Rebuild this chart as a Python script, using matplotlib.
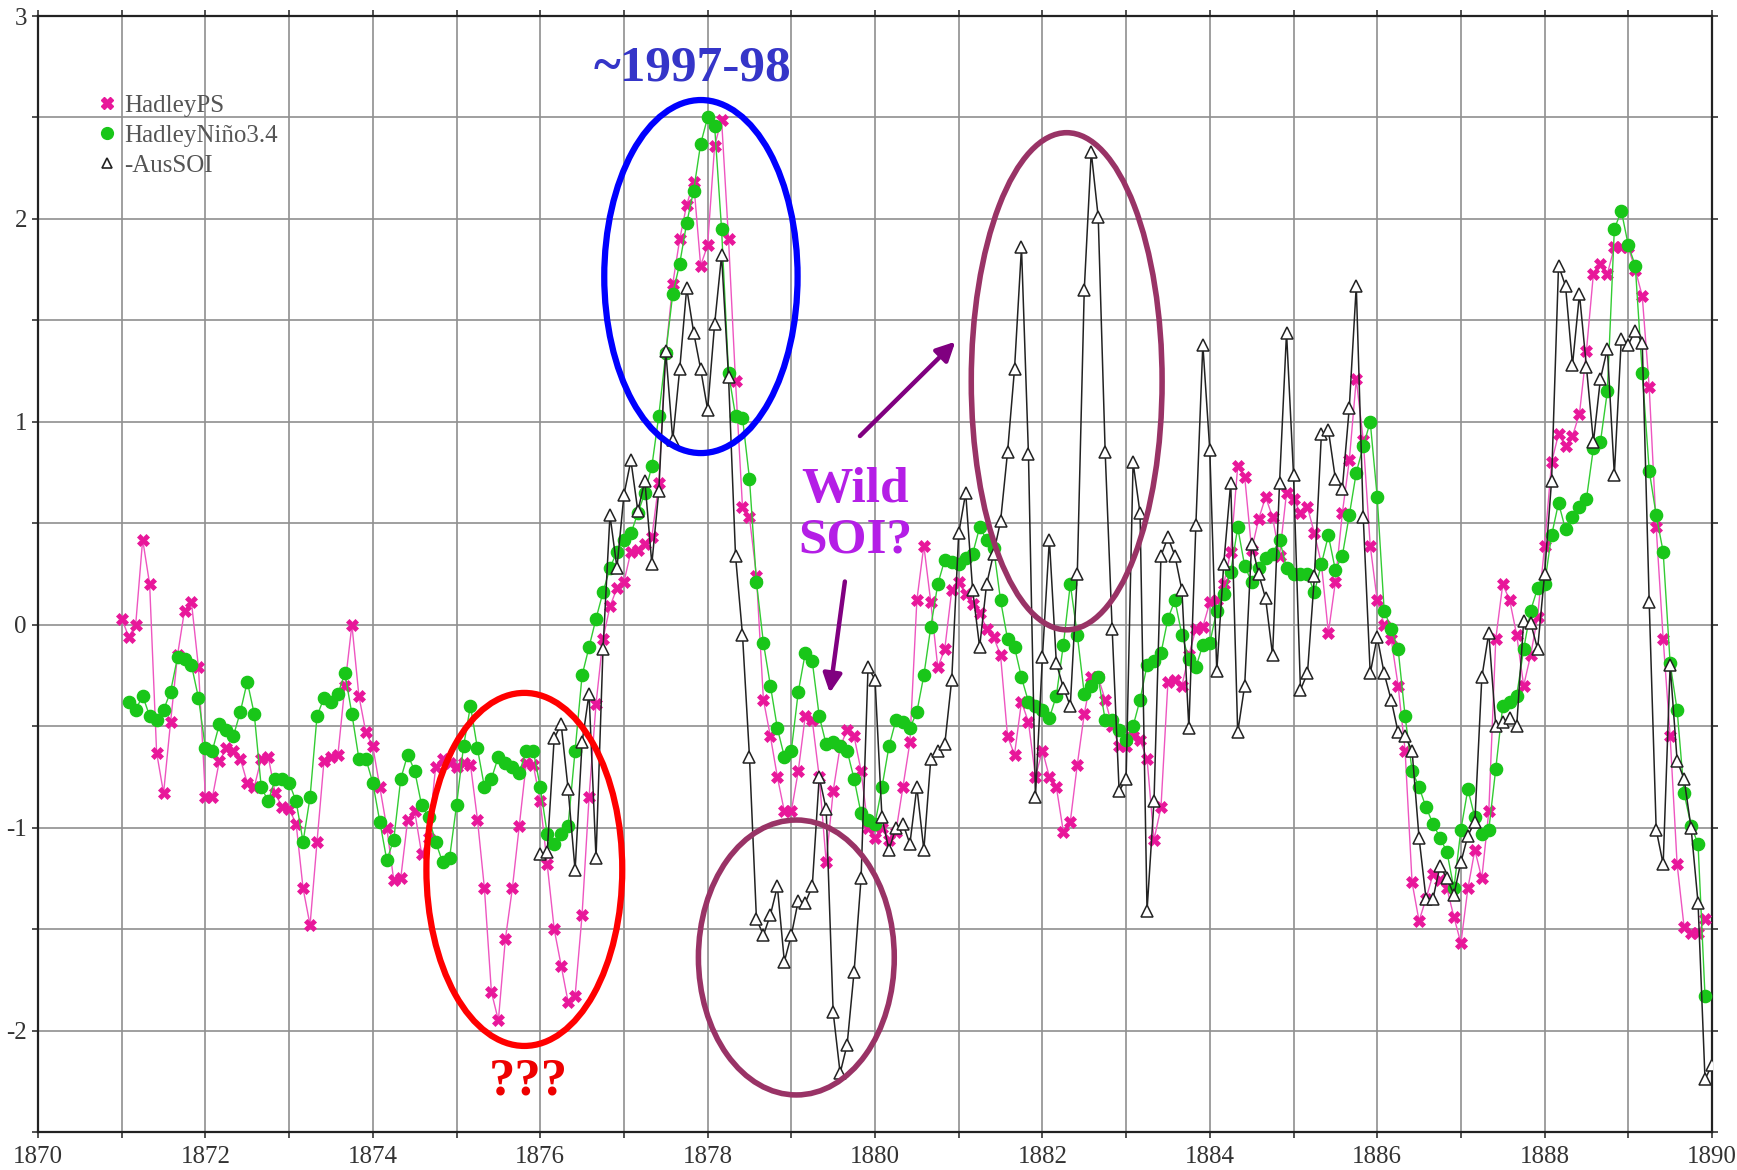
import numpy as np
import matplotlib
matplotlib.use('Agg')
import matplotlib.pyplot as plt
from matplotlib.patches import Ellipse
from matplotlib.lines import Line2D
from matplotlib.ticker import MultipleLocator

# ---------------- data (monthly values) ----------------
ps_start = 1871.0          # HadleyPS starts Jan 1871
nino_start = 1871 + 1 / 12  # HadleyNino3.4 starts Feb 1871
soi_start = 1876.0         # -AusSOI starts Jan 1876

hadley_ps = [
    0.03, -0.06, 0.00, 0.42, 0.20, -0.63, -0.83, -0.48, -0.15, 0.07, 0.11, -0.21,
    -0.85, -0.85, -0.67, -0.61, -0.62, -0.66, -0.78, -0.80, -0.66, -0.65, -0.83, -0.90,
    -0.91, -0.98, -1.30, -1.48, -1.07, -0.67, -0.65, -0.64, -0.30, 0.00, -0.35, -0.53,
    -0.60, -0.80, -1.00, -1.26, -1.25, -0.96, -0.92, -1.13, -1.05, -0.70, -0.66, -0.68,
    -0.70, -0.68, -0.69, -0.96, -1.30, -1.81, -1.95, -1.55, -1.30, -0.99, -0.68, -0.69,
    -0.87, -1.18, -1.50, -1.68, -1.86, -1.83, -1.43, -0.85, -0.39, -0.07, 0.09, 0.18,
    0.21, 0.36, 0.37, 0.40, 0.43, 0.70, 1.34, 1.68, 1.90, 2.07, 2.18, 1.77,
    1.87, 2.36, 2.49, 1.90, 1.20, 0.58, 0.53, 0.24, -0.37, -0.55, -0.75, -0.92,
    -0.92, -0.72, -0.45, -0.47, -0.75, -1.17, -0.82, -0.60, -0.52, -0.55, -0.72, -1.00,
    -1.05, -1.00, -1.06, -1.02, -0.80, -0.58, 0.12, 0.39, 0.11, -0.21, -0.12, 0.17,
    0.21, 0.15, 0.10, 0.06, -0.02, -0.06, -0.15, -0.55, -0.64, -0.38, -0.48, -0.75,
    -0.62, -0.75, -0.80, -1.02, -0.97, -0.69, -0.44, -0.26, -0.26, -0.37, -0.50, -0.60,
    -0.60, -0.55, -0.57, -0.66, -1.06, -0.90, -0.28, -0.27, -0.30, -0.15, -0.02, -0.01,
    0.11, 0.12, 0.20, 0.36, 0.78, 0.73, 0.37, 0.52, 0.63, 0.53, 0.34, 0.65,
    0.62, 0.55, 0.58, 0.45, 0.30, -0.04, 0.21, 0.55, 0.81, 1.21, 0.91, 0.39,
    0.12, 0.00, -0.07, -0.30, -0.62, -1.27, -1.46, -1.35, -1.23, -1.26, -1.30, -1.44,
    -1.57, -1.30, -1.11, -1.25, -0.92, -0.07, 0.20, 0.12, -0.05, -0.30, -0.15, 0.04,
    0.39, 0.80, 0.94, 0.88, 0.93, 1.04, 1.35, 1.73, 1.78, 1.73, 1.86, 1.86,
    1.86, 1.75, 1.62, 1.17, 0.48, -0.07, -0.55, -1.18, -1.49, -1.52, -1.52, -1.45,
]

hadley_nino34 = [
    -0.38, -0.42, -0.35, -0.45, -0.47, -0.42, -0.33, -0.16, -0.17, -0.20, -0.36,
    -0.61, -0.62, -0.49, -0.52, -0.55, -0.43, -0.28, -0.44, -0.80, -0.87, -0.76, -0.76,
    -0.78, -0.87, -1.07, -0.85, -0.45, -0.36, -0.38, -0.34, -0.24, -0.44, -0.66, -0.66,
    -0.78, -0.97, -1.16, -1.06, -0.76, -0.64, -0.72, -0.89, -0.95, -1.07, -1.17, -1.15,
    -0.89, -0.60, -0.40, -0.61, -0.80, -0.76, -0.65, -0.68, -0.70, -0.73, -0.62, -0.62,
    -0.80, -1.03, -1.08, -1.03, -0.99, -0.62, -0.25, -0.11, 0.03, 0.16, 0.28, 0.36,
    0.42, 0.45, 0.55, 0.65, 0.78, 1.03, 1.34, 1.63, 1.78, 1.98, 2.14, 2.37,
    2.50, 2.46, 1.95, 1.24, 1.03, 1.02, 0.72, 0.21, -0.09, -0.30, -0.51, -0.65,
    -0.62, -0.33, -0.14, -0.18, -0.45, -0.59, -0.58, -0.60, -0.62, -0.76, -0.93, -0.96,
    -0.98, -0.80, -0.60, -0.47, -0.48, -0.51, -0.43, -0.25, -0.01, 0.20, 0.32, 0.31,
    0.30, 0.33, 0.35, 0.48, 0.42, 0.38, 0.12, -0.07, -0.11, -0.26, -0.38, -0.40,
    -0.42, -0.46, -0.35, -0.10, 0.20, -0.05, -0.34, -0.30, -0.26, -0.47, -0.47, -0.52,
    -0.57, -0.50, -0.37, -0.20, -0.18, -0.14, 0.03, 0.12, -0.05, -0.17, -0.21, -0.10,
    -0.09, 0.07, 0.15, 0.26, 0.48, 0.29, 0.21, 0.28, 0.33, 0.35, 0.42, 0.28,
    0.25, 0.25, 0.25, 0.16, 0.30, 0.44, 0.27, 0.34, 0.54, 0.75, 0.88, 1.00,
    0.63, 0.07, -0.02, -0.12, -0.45, -0.72, -0.80, -0.90, -0.98, -1.05, -1.12, -1.30,
    -1.01, -0.81, -0.95, -1.03, -1.01, -0.71, -0.40, -0.38, -0.35, -0.12, 0.07, 0.18,
    0.20, 0.44, 0.60, 0.47, 0.53, 0.58, 0.62, 0.87, 0.90, 1.15, 1.95, 2.04,
    1.87, 1.77, 1.24, 0.76, 0.54, 0.36, -0.19, -0.42, -0.83, -0.99, -1.08, -1.83,
]

neg_aus_soi = [
    -1.13, -1.12, -0.56, -0.49, -0.81, -1.21, -0.58, -0.34, -1.15, -0.12, 0.54, 0.28,
    0.64, 0.81, 0.56, 0.71, 0.30, 0.66, 1.35, 0.91, 1.26, 1.66, 1.44, 1.26,
    1.06, 1.48, 1.82, 1.22, 0.34, -0.05, -0.65, -1.45, -1.53, -1.43, -1.29, -1.66,
    -1.53, -1.36, -1.37, -1.29, -0.75, -0.91, -1.91, -2.21, -2.07, -1.71, -1.25, -0.21,
    -0.27, -0.95, -1.11, -1.00, -0.98, -1.08, -0.80, -1.11, -0.66, -0.62, -0.59, -0.27,
    0.45, 0.65, 0.17, -0.11, 0.20, 0.35, 0.51, 0.85, 1.26, 1.86, 0.84, -0.85,
    -0.16, 0.42, -0.19, -0.31, -0.40, 0.25, 1.65, 2.33, 2.01, 0.85, -0.02, -0.82,
    -0.76, 0.80, 0.55, -1.41, -0.87, 0.34, 0.43, 0.34, 0.17, -0.51, 0.49, 1.38,
    0.86, -0.23, 0.30, 0.70, -0.53, -0.30, 0.40, 0.25, 0.13, -0.15, 0.70, 1.44,
    0.74, -0.32, -0.24, 0.24, 0.94, 0.96, 0.72, 0.67, 1.07, 1.67, 0.53, -0.24,
    -0.06, -0.24, -0.37, -0.53, -0.55, -0.62, -1.05, -1.35, -1.35, -1.19, -1.25, -1.33,
    -1.17, -1.04, -0.97, -0.26, -0.04, -0.50, -0.48, -0.46, -0.50, 0.02, 0.01, -0.12,
    0.25, 0.71, 1.77, 1.67, 1.28, 1.63, 1.27, 0.90, 1.21, 1.36, 0.74, 1.41,
    1.38, 1.45, 1.39, 0.11, -1.01, -1.18, -0.20, -0.67, -0.76, -1.00, -1.37, -2.24,
    -2.17,
]

series_labels = ["HadleyPS", "HadleyNiño3.4", "-AusSOI"]
x_tick_years = [1870, 1872, 1874, 1876, 1878, 1880, 1882, 1884, 1886, 1888, 1890]
y_tick_values = [-2, -1, 0, 1, 2, 3]

# ---------------- figure ----------------
SERIF = ['Liberation Serif', 'DejaVu Serif']
plt.rcParams['font.family'] = SERIF

fig = plt.figure(figsize=(17.37, 11.70), dpi=100)
ax = fig.add_axes([0.0219, 0.0325, 0.9637, 0.9538])
ax.set_xlim(1870, 1890)
ax.set_ylim(-2.5, 3)

t_ps = ps_start + np.arange(len(hadley_ps)) / 12
t_nino = nino_start + np.arange(len(hadley_nino34)) / 12
t_soi = soi_start + np.arange(len(neg_aus_soi)) / 12

pink = '#e8179a'
pink_line = '#ee55c0'
green = '#19c619'
green_line = '#33cc33'

ax.plot(t_ps, hadley_ps, color=pink_line, lw=1.0, marker='X', ms=8.5,
        mfc=pink, mec=pink, mew=0.5, zorder=3)
ax.plot(t_nino, hadley_nino34, color=green_line, lw=1.0, marker='o', ms=8.8,
        mfc=green, mec=green, zorder=4)
ax.plot(t_soi, neg_aus_soi, color='#222222', lw=1.1, marker='^', ms=8.5,
        mfc='white', mec='#222222', mew=1.1, zorder=5)

# grid & ticks
ax.xaxis.set_major_locator(plt.FixedLocator(x_tick_years))
ax.xaxis.set_minor_locator(MultipleLocator(1))
ax.yaxis.set_major_locator(plt.FixedLocator(y_tick_values))
ax.yaxis.set_minor_locator(MultipleLocator(0.5))
ax.set_xticklabels([str(v) for v in x_tick_years])
ax.set_yticklabels([str(v) for v in y_tick_values])
ax.grid(True, which='both', color='#8f8f8f', lw=1.2, zorder=0)
ax.set_axisbelow(True)
ax.tick_params(which='both', direction='out', length=4, width=1.2, color='#333333',
               top=True, right=True, labelsize=18, labelcolor='#333333')
ax.tick_params(axis='x', pad=6)
ax.tick_params(axis='y', pad=4)
for s in ax.spines.values():
    s.set_color('#222222')
    s.set_linewidth(1.6)

# legend (markers only)
handles = [
    Line2D([], [], linestyle='none', marker='X', ms=8.5, mfc=pink, mec=pink),
    Line2D([], [], linestyle='none', marker='o', ms=8.5, mfc=green, mec=green),
    Line2D([], [], linestyle='none', marker='^', ms=7, mfc='white', mec='#222222', mew=1.2),
]
leg = ax.legend(handles, series_labels, loc='upper left', bbox_to_anchor=(0.035, 0.93),
                frameon=False, fontsize=18, handlelength=0.8, handletextpad=0.3,
                labelspacing=0.3, borderpad=0, borderaxespad=0)
for txt in leg.get_texts():
    txt.set_color('#555555')

# annotations
ax.add_patch(Ellipse((1877.92, 1.716), 2.31, 1.74, fill=False, ec='#0000ff', lw=4.5, zorder=6))
ax.add_patch(Ellipse((1875.81, -1.206), 2.34, 1.74, fill=False, ec='#ff0000', lw=4.5, zorder=6))
ax.add_patch(Ellipse((1879.06, -1.64), 2.34, 1.355, fill=False, ec='#993366', lw=4, zorder=6))
ax.add_patch(Ellipse((1882.29, 1.20), 2.28, 2.45, fill=False, ec='#993366', lw=4, zorder=6))

ax.text(1877.82, 2.74, '~1997-98', color='#3535c8', fontsize=37, fontweight='bold',
        ha='center', va='center', zorder=7)
ax.text(1875.86, -2.25, '???', color='#ee0000', fontsize=38, fontweight='bold',
        ha='center', va='center', zorder=7)
ax.text(1879.76, 0.54, 'Wild\nSOI?', color='#b41ee6', fontsize=37, fontweight='bold',
        ha='center', va='center', linespacing=1.15, zorder=7)

arrow_kw = dict(arrowstyle='-|>', color='#800080', lw=3.2, mutation_scale=28,
                shrinkA=0, shrinkB=0)
ax.annotate('', xy=(1880.96, 1.395), xytext=(1879.82, 0.93), arrowprops=arrow_kw, zorder=7)
ax.annotate('', xy=(1879.46, -0.336), xytext=(1879.64, 0.213), arrowprops=arrow_kw, zorder=7)

fig.savefig('out.png', dpi=100, facecolor='white')
